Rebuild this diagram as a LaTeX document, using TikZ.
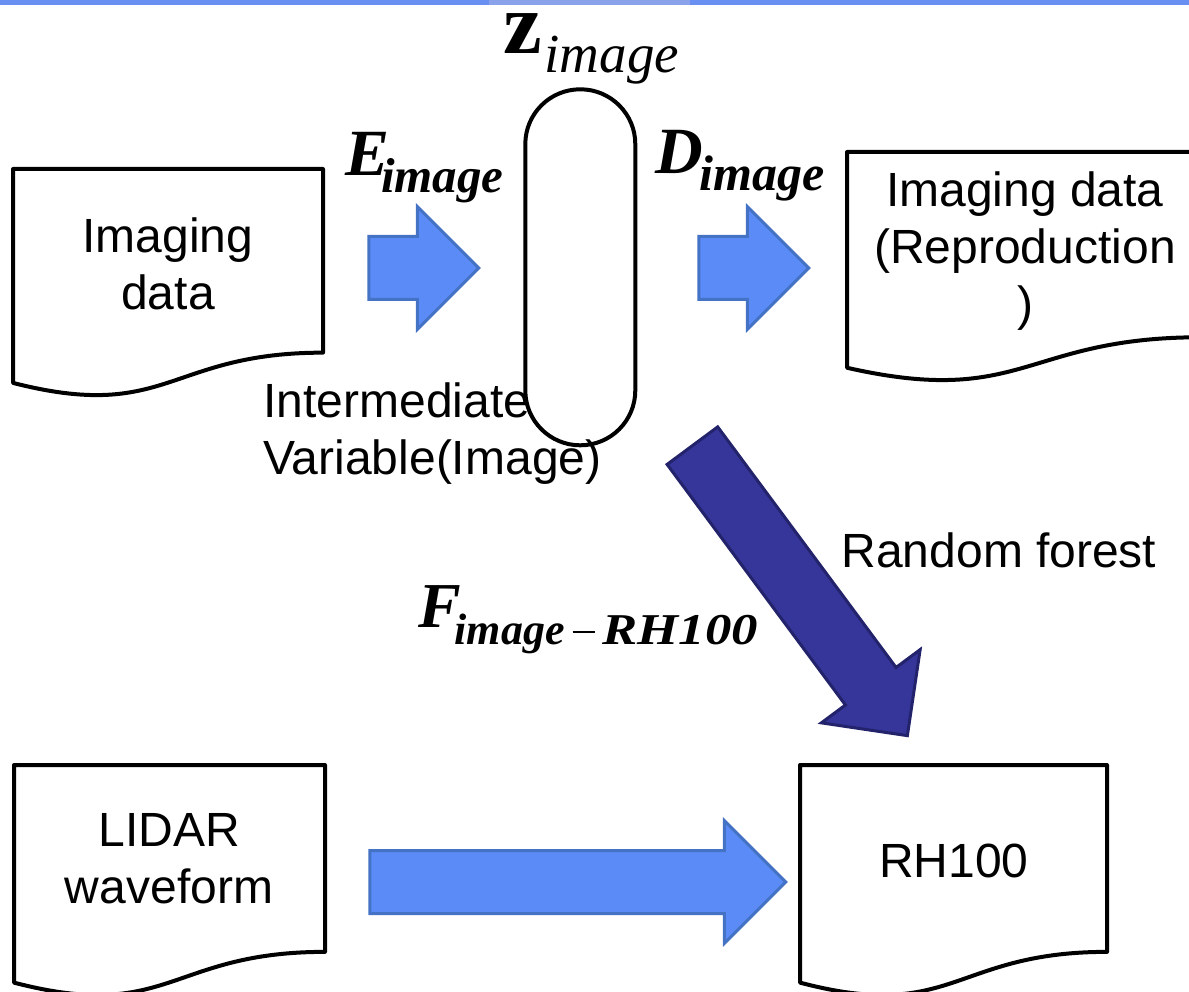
\documentclass[tikz,border=0pt]{standalone}
\usepackage{fontspec}
\setmainfont{Liberation Sans}
\newfontfamily\tnr{Liberation Serif}
\usetikzlibrary{shapes.arrows}
\definecolor{lblue}{HTML}{5B8BF7}
\definecolor{lblueb}{HTML}{4472C4}
\definecolor{dnavy}{HTML}{35359A}
\definecolor{dnavyb}{HTML}{23236C}
\definecolor{topline}{HTML}{6A8FF2}
\definecolor{toplinemid}{HTML}{8AA2EA}
\newcommand\docshape[5]{% name x0 x1 y0 h
  \draw[docline] (#2,#4) -- (#3,#4) -- (#3,{#4+0.802*#5})
    .. controls ({(#2+#3)/2},{#4+0.802*#5}) and ({(#2+#3)/2},{#4+1.1075*#5}) ..
    (#2,{#4+0.934*#5}) -- cycle;
  \coordinate (#1) at ({(#2+#3)/2},{#4+0.45*#5});}
\newcommand\mminus{\rule[0.24em]{0.5em}{2.2pt}}
\begin{document}
\begin{tikzpicture}[x=1pt,y=-1pt,
  docline/.style={draw=black, line width=4pt, line join=round},
  lbl/.style={font=\fontsize{48}{57}\selectfont, inner sep=0pt, outer sep=0pt},
  blk/.style={single arrow, single arrow head extend=30pt, minimum width=120pt,
    inner xsep=0pt, inner ysep=30pt, line width=3pt},
  lightarrow/.style={blk, fill=lblue, draw=lblueb},
  darkarrow/.style={blk, fill=dnavy, draw=dnavyb},
  mathlbl/.style={inner sep=0pt, outer sep=0pt, anchor=base west}]
\useasboundingbox (0,0) rectangle (1189,992);
\clip (0,0) rectangle (1189,992);

% top rule
\draw[topline, line width=5.5pt] (0,2.7) -- (1189,2.7);
\draw[toplinemid, line width=5.5pt] (489,2.7) -- (690,2.7);

% document shapes
\docshape{docA}{13}{323}{169}{229}
\docshape{docB}{847}{1201}{152}{231}
\docshape{docC}{14}{325}{765}{233}
\docshape{docD}{800}{1107}{765}{233}

% texts in documents
\node[lbl, align=center] (imgdata) at (168,264) {Imaging\\data};
\node[lbl, align=center] (repro) at (1025,251) {Imaging data\\(Reproduction\\)};
\node[lbl, align=center] (lidar) at (169,859) {LIDAR\\waveform};
\node[lbl, anchor=base] (rh) at (954,877) {RH100};

% intermediate variable
\node[draw, line width=4pt, rounded corners=54.9pt, minimum width=110pt,
  minimum height=356pt, inner sep=0pt] (zpill) at (580.3,267.3) {};
\node[lbl, align=left, anchor=west] (inter) at (263.5,434) {Intermediate\\Variable(Image)};
\node[lbl, anchor=base] (rf) at (999,567) {Random forest};

% math labels
\node[mathlbl] (zlbl) at (503,54) {\tnr{\fontsize{87}{87}\selectfont\bfseries z}\kern3pt\raisebox{-19pt}{\fontsize{55}{55}\selectfont\itshape image}};
\node[mathlbl] (Elbl) at (345,176) {\tnr\bfseries\itshape{\fontsize{66}{66}\selectfont E}\kern-8pt\raisebox{-17pt}{\fontsize{49}{49}\selectfont image}};
\node[mathlbl] (Dlbl) at (655,174) {\tnr\bfseries\itshape{\fontsize{66}{66}\selectfont D}\kern-3pt\raisebox{-17pt}{\fontsize{50}{50}\selectfont image}};
\node[mathlbl] (Flbl) at (418,627) {\tnr\bfseries\itshape{\fontsize{64}{64}\selectfont F}\kern-6pt\raisebox{-17pt}{\fontsize{44}{44}\selectfont image\kern8pt\mminus\kern8pt\scalebox{1.2}[1]{RH100}}};

% block arrows (shape centre sits 15pt behind the geometric middle)
\node[lightarrow, minimum height=110pt] (aE) at (408,268) {};
\node[lightarrow, minimum height=110pt] (aD) at (738,268) {};
\node[lightarrow, minimum height=416pt] (aL) at (562,882) {};
\node[darkarrow, minimum height=361pt, rotate=-53.45] (aF) at (790.5,578) {};
\end{tikzpicture}
\end{document}
